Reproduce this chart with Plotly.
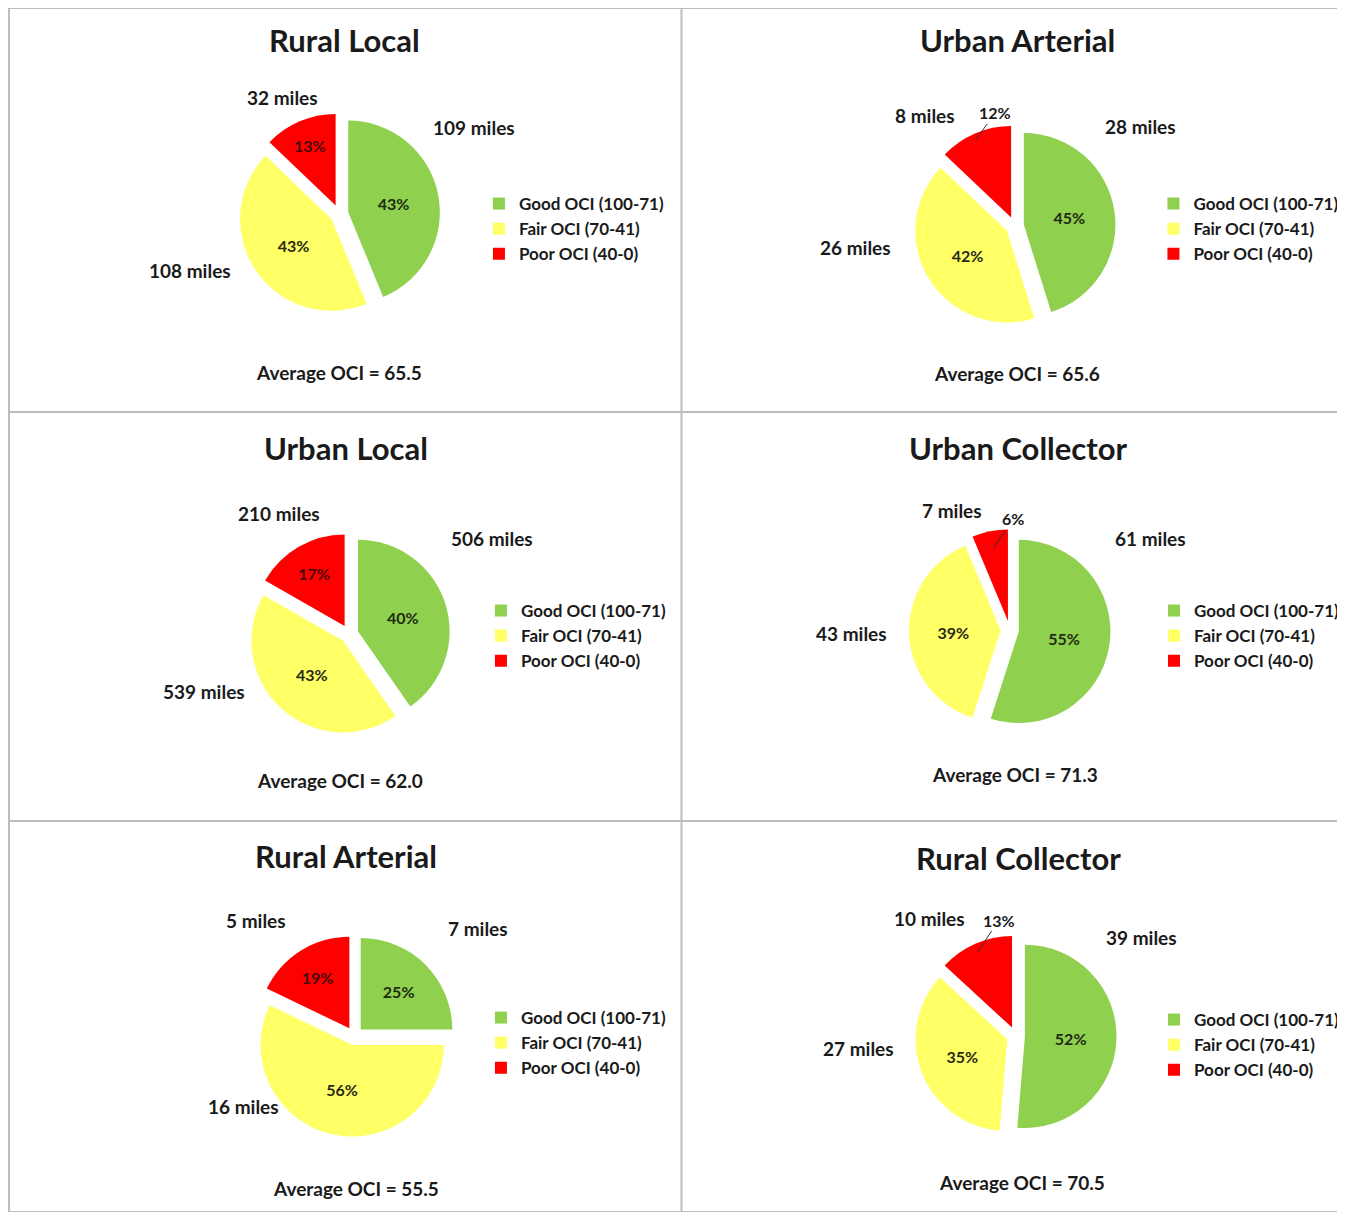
import plotly.graph_objects as go

# ---------------- data ----------------
panel_titles = ["Rural Local", "Urban Arterial", "Urban Local",
                "Urban Collector", "Rural Arterial", "Rural Collector"]
categories = ["Good OCI (100-71)", "Fair OCI (70-41)", "Poor OCI (40-0)"]

rural_local_miles = [109, 108, 32]
rural_local_pct = [43, 43, 13]
urban_arterial_miles = [28, 26, 8]
urban_arterial_pct = [45, 42, 12]
urban_local_miles = [506, 539, 210]
urban_local_pct = [40, 43, 17]
urban_collector_miles = [61, 43, 7]
urban_collector_pct = [55, 39, 6]
rural_arterial_miles = [7, 16, 5]
rural_arterial_pct = [25, 56, 19]
rural_collector_miles = [39, 27, 10]
rural_collector_pct = [52, 35, 13]

average_oci = [65.5, 65.6, 62.0, 71.3, 55.5, 70.5]

miles = [rural_local_miles, urban_arterial_miles, urban_local_miles,
         urban_collector_miles, rural_arterial_miles, rural_collector_miles]
pcts = [rural_local_pct, urban_arterial_pct, urban_local_pct,
        urban_collector_pct, rural_arterial_pct, rural_collector_pct]

# ---------------- styling / layout ----------------
# page body has an 8px margin, so the figure is sized to fit the window
OFF = 8
FW, FH = 1337, 1204


def X(px):
    return (px - OFF) / FW


def Y(py):
    return 1 - (py - OFF) / FH


colors = ["#8FD14F", "#FFFF66", "#FF0000"]
pct_colors = ["#1f2a12", "#2a2a14", "#4a0808"]
FONT = "Lato"
TXT = "#1a1a1a"

pie_centers = [(340, 214), (1017, 226), (350, 634), (1012, 630), (355, 1036), (1018, 1036)]
pie_half = 101
legend_pos = [(480, 186), (1156, 186), (482, 593), (1157, 593), (482, 1000), (1157, 1002)]
title_pos = [(345, 40), (1020, 40), (347, 448), (1021, 448), (347, 856), (1021, 858)]
avg_pos = [(340, 372), (1019, 374), (341, 780), (1017, 774), (357, 1188), (1024, 1182)]
# miles-label anchor positions (good, fair, poor) per panel
miles_label_pos = [
    [(475, 128), (190, 270), (283, 98)],
    [(1143, 127), (857, 248), (927, 115)],
    [(493, 538), (204, 691), (280, 513)],
    [(1153, 538), (853, 633), (954, 510)],
    [(479, 928), (244, 1106), (257, 920)],
    [(1144, 937), (860, 1048), (932, 918)],
]
# panels whose "Poor" percentage sits outside the slice with a leader line:
# (leader tip, text centre)
poor_pct_outside = {
    1: ((978, 140), (997, 113)),
    3: ((996, 548), (1015, 519)),
    5: ((980, 952), (1001, 920)),
}

fig = go.Figure()

for i in range(6):
    cx, cy = pie_centers[i]
    dom = dict(x=[X(cx - pie_half), X(cx + pie_half)],
               y=[Y(cy + pie_half), Y(cy - pie_half)])
    lg = "legend" if i == 0 else f"legend{i + 1}"
    tpos = ["inside", "inside", "none" if i in poor_pct_outside else "inside"]
    fig.add_trace(go.Pie(
        labels=categories, values=miles[i], text=[f"{p}%" for p in pcts[i]],
        texttemplate="%{text}", textposition=tpos, insidetextorientation="horizontal",
        textfont=dict(family=FONT, size=16, color=pct_colors, weight="bold"),
        marker=dict(colors=colors, line=dict(width=0)),
        sort=False, direction="clockwise", rotation=0, pull=0.1,
        domain=dom, legend=lg, legendgroup=f"panel{i}",
        hovertemplate="%{label}<br>%{value} miles (%{text})<extra></extra>",
    ))
    for j, m in enumerate(miles[i]):
        mx, my = miles_label_pos[i][j]
        fig.add_annotation(x=X(mx), y=Y(my), xref="paper", yref="paper",
                           xanchor="center", yanchor="middle", showarrow=False,
                           text=f"{m} miles",
                           font=dict(family=FONT, size=19, color=TXT, weight="bold"))
    if i in poor_pct_outside:
        (px_, py_), (tx_, ty_) = poor_pct_outside[i]
        fig.add_annotation(x=X(px_), y=Y(py_), xref="paper", yref="paper",
                           ax=tx_ - px_, ay=ty_ - py_, showarrow=True,
                           arrowhead=0, arrowwidth=1, arrowcolor="#333333",
                           text=f"{pcts[i][2]}%",
                           font=dict(family=FONT, size=16, color=TXT, weight="bold"))
    lx, ly = legend_pos[i]
    fig.update_layout(**{lg: dict(
        x=X(lx), y=Y(ly), xanchor="left", yanchor="top",
        bgcolor="rgba(0,0,0,0)", font=dict(family=FONT, size=17, color=TXT, weight="bold"),
        itemclick=False, itemdoubleclick=False,
    )})
    tx, ty = title_pos[i]
    fig.add_annotation(x=X(tx), y=Y(ty), xref="paper", yref="paper",
                       xanchor="center", yanchor="middle",
                       text=panel_titles[i], showarrow=False,
                       font=dict(family=FONT, size=31, color=TXT, weight="bold"))
    ax, ay = avg_pos[i]
    fig.add_annotation(x=X(ax), y=Y(ay), xref="paper", yref="paper",
                       xanchor="center", yanchor="middle",
                       text=f"Average OCI = {average_oci[i]:.1f}", showarrow=False,
                       font=dict(family=FONT, size=19, color=TXT, weight="bold"))

# panel borders
border = dict(color="#BDBDBD", width=2)
shapes = [
    dict(type="rect", x0=X(9), x1=X(1344), y0=0, y1=1, line=border),
    dict(type="line", x0=X(683), x1=X(683), y0=0, y1=1, line=border),
    dict(type="line", x0=X(9), x1=X(1344), y0=Y(412), y1=Y(412), line=border),
    dict(type="line", x0=X(9), x1=X(1344), y0=Y(821), y1=Y(821), line=border),
]
for s in shapes:
    s.update(xref="paper", yref="paper", layer="below")

fig.update_layout(
    width=FW, height=FH, margin=dict(l=0, r=0, t=0, b=0),
    paper_bgcolor="white", plot_bgcolor="white", shapes=shapes,
    font=dict(family=FONT, color=TXT),
)

fig.write_html("out.html")
